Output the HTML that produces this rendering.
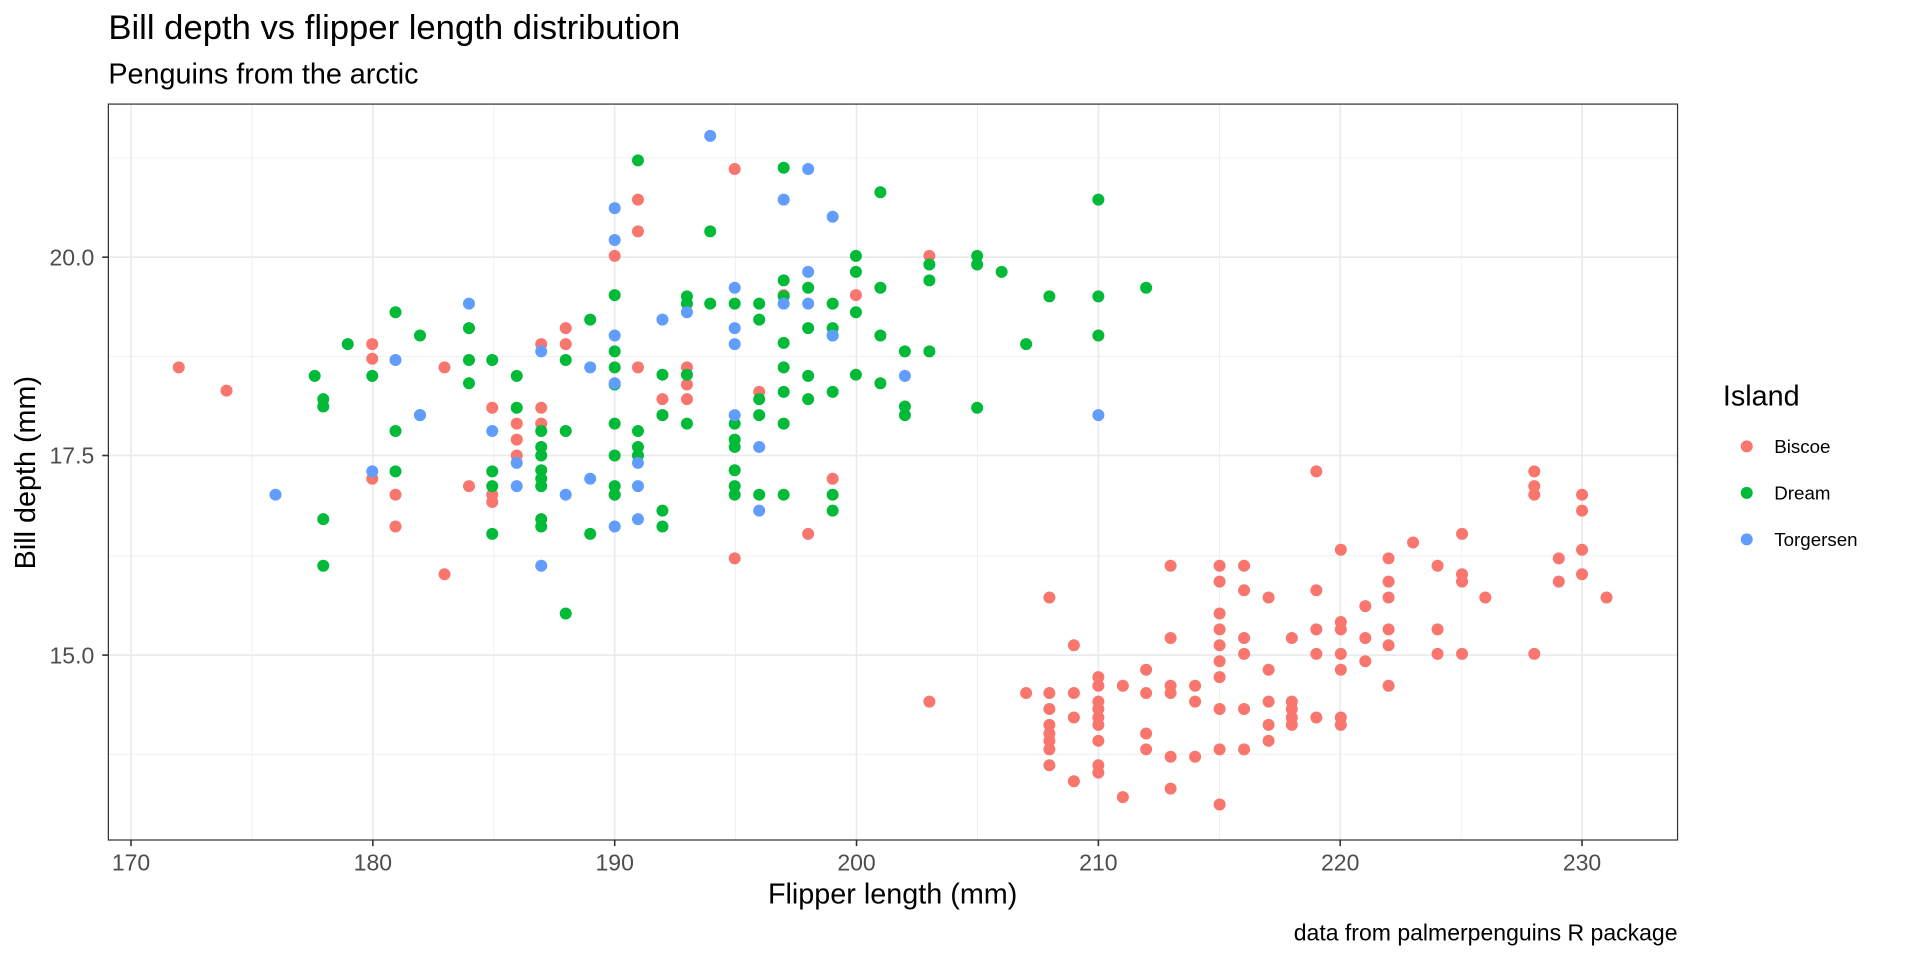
<!DOCTYPE html>
<html><head><meta charset="utf-8"><style>html,body{margin:0;padding:0;background:#fff}svg{display:block}</style></head>
<body>
<svg xmlns="http://www.w3.org/2000/svg" width="1920" height="960" viewBox="0 0 1568 784" font-family="Liberation Sans, Arial, sans-serif">
<rect width="1568" height="784" fill="#fff"/>
<g stroke="#EBEBEB" stroke-width="0.6">
<line x1="205.7" y1="85" x2="205.7" y2="686"/><line x1="403.3" y1="85" x2="403.3" y2="686"/><line x1="600.8" y1="85" x2="600.8" y2="686"/><line x1="798.3" y1="85" x2="798.3" y2="686"/><line x1="995.8" y1="85" x2="995.8" y2="686"/><line x1="1193.3" y1="85" x2="1193.3" y2="686"/>
<line x1="88.5" y1="129" x2="1370" y2="129"/><line x1="88.5" y1="291" x2="1370" y2="291"/><line x1="88.5" y1="454" x2="1370" y2="454"/><line x1="88.5" y1="616" x2="1370" y2="616"/>
</g>
<g stroke="#EBEBEB" stroke-width="1.4">
<line x1="107" y1="85" x2="107" y2="686"/><line x1="304.5" y1="85" x2="304.5" y2="686"/><line x1="502" y1="85" x2="502" y2="686"/><line x1="699.5" y1="85" x2="699.5" y2="686"/><line x1="897" y1="85" x2="897" y2="686"/><line x1="1094.5" y1="85" x2="1094.5" y2="686"/><line x1="1292" y1="85" x2="1292" y2="686"/>
<line x1="88.5" y1="210" x2="1370" y2="210"/><line x1="88.5" y1="372" x2="1370" y2="372"/><line x1="88.5" y1="535" x2="1370" y2="535"/>
</g>
<g fill="#F8766D">
<circle cx="146" cy="300" r="4.9"/><circle cx="185" cy="319" r="4.9"/><circle cx="304" cy="281" r="4.9"/><circle cx="304" cy="293" r="4.9"/><circle cx="304" cy="391" r="4.9"/><circle cx="323" cy="404" r="4.9"/><circle cx="323" cy="430" r="4.9"/><circle cx="363" cy="469" r="4.9"/><circle cx="363" cy="300" r="4.9"/><circle cx="383" cy="397" r="4.9"/><circle cx="402" cy="333" r="4.9"/><circle cx="402" cy="404" r="4.9"/><circle cx="402" cy="410" r="4.9"/><circle cx="422" cy="346" r="4.9"/><circle cx="422" cy="359" r="4.9"/><circle cx="422" cy="372" r="4.9"/><circle cx="442" cy="281" r="4.9"/><circle cx="442" cy="333" r="4.9"/><circle cx="442" cy="346" r="4.9"/><circle cx="462" cy="268" r="4.9"/><circle cx="462" cy="281" r="4.9"/><circle cx="521" cy="163" r="4.9"/><circle cx="521" cy="189" r="4.9"/><circle cx="521" cy="300" r="4.9"/><circle cx="502" cy="209" r="4.9"/><circle cx="541" cy="326" r="4.9"/><circle cx="541" cy="339" r="4.9"/><circle cx="561" cy="326" r="4.9"/><circle cx="561" cy="300" r="4.9"/><circle cx="561" cy="314" r="4.9"/><circle cx="600" cy="138" r="4.9"/><circle cx="600" cy="456" r="4.9"/><circle cx="620" cy="320" r="4.9"/><circle cx="640" cy="241" r="4.9"/><circle cx="660" cy="436" r="4.9"/><circle cx="680" cy="391" r="4.9"/><circle cx="699" cy="241" r="4.9"/><circle cx="759" cy="209" r="4.9"/><circle cx="759" cy="573" r="4.9"/><circle cx="857" cy="488" r="4.9"/><circle cx="877" cy="527" r="4.9"/><circle cx="838" cy="566" r="4.9"/><circle cx="857" cy="566" r="4.9"/><circle cx="857" cy="579" r="4.9"/><circle cx="857" cy="592" r="4.9"/><circle cx="857" cy="599" r="4.9"/><circle cx="857" cy="605" r="4.9"/><circle cx="857" cy="612" r="4.9"/><circle cx="857" cy="625" r="4.9"/><circle cx="877" cy="566" r="4.9"/><circle cx="877" cy="586" r="4.9"/><circle cx="877" cy="638" r="4.9"/><circle cx="897" cy="553" r="4.9"/><circle cx="897" cy="560" r="4.9"/><circle cx="897" cy="573" r="4.9"/><circle cx="897" cy="579" r="4.9"/><circle cx="897" cy="586" r="4.9"/><circle cx="897" cy="592" r="4.9"/><circle cx="897" cy="605" r="4.9"/><circle cx="897" cy="625" r="4.9"/><circle cx="897" cy="631" r="4.9"/><circle cx="917" cy="560" r="4.9"/><circle cx="917" cy="651" r="4.9"/><circle cx="936" cy="566" r="4.9"/><circle cx="936" cy="599" r="4.9"/><circle cx="936" cy="612" r="4.9"/><circle cx="936" cy="547" r="4.9"/><circle cx="956" cy="462" r="4.9"/><circle cx="956" cy="521" r="4.9"/><circle cx="956" cy="560" r="4.9"/><circle cx="956" cy="566" r="4.9"/><circle cx="956" cy="618" r="4.9"/><circle cx="956" cy="644" r="4.9"/><circle cx="976" cy="560" r="4.9"/><circle cx="976" cy="573" r="4.9"/><circle cx="976" cy="618" r="4.9"/><circle cx="996" cy="462" r="4.9"/><circle cx="996" cy="475" r="4.9"/><circle cx="996" cy="501" r="4.9"/><circle cx="996" cy="514" r="4.9"/><circle cx="996" cy="527" r="4.9"/><circle cx="996" cy="540" r="4.9"/><circle cx="996" cy="553" r="4.9"/><circle cx="996" cy="579" r="4.9"/><circle cx="996" cy="612" r="4.9"/><circle cx="996" cy="657" r="4.9"/><circle cx="1016" cy="462" r="4.9"/><circle cx="1016" cy="482" r="4.9"/><circle cx="1016" cy="521" r="4.9"/><circle cx="1016" cy="534" r="4.9"/><circle cx="1016" cy="579" r="4.9"/><circle cx="1016" cy="612" r="4.9"/><circle cx="1036" cy="488" r="4.9"/><circle cx="1036" cy="547" r="4.9"/><circle cx="1036" cy="573" r="4.9"/><circle cx="1036" cy="592" r="4.9"/><circle cx="1036" cy="605" r="4.9"/><circle cx="1055" cy="521" r="4.9"/><circle cx="1055" cy="573" r="4.9"/><circle cx="1055" cy="579" r="4.9"/><circle cx="1055" cy="586" r="4.9"/><circle cx="1055" cy="592" r="4.9"/><circle cx="1075" cy="385" r="4.9"/><circle cx="1075" cy="482" r="4.9"/><circle cx="1075" cy="514" r="4.9"/><circle cx="1075" cy="534" r="4.9"/><circle cx="1075" cy="586" r="4.9"/><circle cx="1095" cy="449" r="4.9"/><circle cx="1095" cy="508" r="4.9"/><circle cx="1095" cy="514" r="4.9"/><circle cx="1095" cy="534" r="4.9"/><circle cx="1095" cy="547" r="4.9"/><circle cx="1095" cy="586" r="4.9"/><circle cx="1095" cy="592" r="4.9"/><circle cx="1115" cy="495" r="4.9"/><circle cx="1115" cy="521" r="4.9"/><circle cx="1115" cy="540" r="4.9"/><circle cx="1134" cy="456" r="4.9"/><circle cx="1134" cy="475" r="4.9"/><circle cx="1134" cy="488" r="4.9"/><circle cx="1134" cy="514" r="4.9"/><circle cx="1134" cy="527" r="4.9"/><circle cx="1134" cy="560" r="4.9"/><circle cx="1154" cy="443" r="4.9"/><circle cx="1174" cy="534" r="4.9"/><circle cx="1174" cy="462" r="4.9"/><circle cx="1174" cy="514" r="4.9"/><circle cx="1194" cy="436" r="4.9"/><circle cx="1194" cy="469" r="4.9"/><circle cx="1194" cy="475" r="4.9"/><circle cx="1194" cy="534" r="4.9"/><circle cx="1213" cy="488" r="4.9"/><circle cx="1253" cy="385" r="4.9"/><circle cx="1253" cy="397" r="4.9"/><circle cx="1253" cy="404" r="4.9"/><circle cx="1253" cy="534" r="4.9"/><circle cx="1273" cy="456" r="4.9"/><circle cx="1273" cy="475" r="4.9"/><circle cx="1292" cy="404" r="4.9"/><circle cx="1292" cy="417" r="4.9"/><circle cx="1292" cy="449" r="4.9"/><circle cx="1292" cy="469" r="4.9"/><circle cx="1312" cy="488" r="4.9"/>
</g>
<g fill="#00BA38">
<circle cx="257" cy="307" r="4.9"/><circle cx="264" cy="326" r="4.9"/><circle cx="264" cy="332" r="4.9"/><circle cx="264" cy="424" r="4.9"/><circle cx="264" cy="462" r="4.9"/><circle cx="284" cy="281" r="4.9"/><circle cx="304" cy="307" r="4.9"/><circle cx="323" cy="255" r="4.9"/><circle cx="323" cy="352" r="4.9"/><circle cx="323" cy="385" r="4.9"/><circle cx="343" cy="274" r="4.9"/><circle cx="343" cy="339" r="4.9"/><circle cx="383" cy="268" r="4.9"/><circle cx="383" cy="294" r="4.9"/><circle cx="383" cy="313" r="4.9"/><circle cx="402" cy="294" r="4.9"/><circle cx="402" cy="385" r="4.9"/><circle cx="402" cy="397" r="4.9"/><circle cx="402" cy="436" r="4.9"/><circle cx="422" cy="307" r="4.9"/><circle cx="422" cy="333" r="4.9"/><circle cx="442" cy="352" r="4.9"/><circle cx="442" cy="365" r="4.9"/><circle cx="442" cy="372" r="4.9"/><circle cx="442" cy="384" r="4.9"/><circle cx="442" cy="391" r="4.9"/><circle cx="442" cy="397" r="4.9"/><circle cx="442" cy="424" r="4.9"/><circle cx="442" cy="430" r="4.9"/><circle cx="462" cy="294" r="4.9"/><circle cx="462" cy="352" r="4.9"/><circle cx="462" cy="501" r="4.9"/><circle cx="482" cy="261" r="4.9"/><circle cx="482" cy="436" r="4.9"/><circle cx="502" cy="241" r="4.9"/><circle cx="502" cy="287" r="4.9"/><circle cx="502" cy="300" r="4.9"/><circle cx="502" cy="314" r="4.9"/><circle cx="502" cy="346" r="4.9"/><circle cx="502" cy="372" r="4.9"/><circle cx="502" cy="397" r="4.9"/><circle cx="502" cy="404" r="4.9"/><circle cx="521" cy="131" r="4.9"/><circle cx="521" cy="352" r="4.9"/><circle cx="521" cy="365" r="4.9"/><circle cx="521" cy="372" r="4.9"/><circle cx="541" cy="306" r="4.9"/><circle cx="541" cy="417" r="4.9"/><circle cx="541" cy="430" r="4.9"/><circle cx="561" cy="242" r="4.9"/><circle cx="561" cy="248" r="4.9"/><circle cx="561" cy="346" r="4.9"/><circle cx="580" cy="189" r="4.9"/><circle cx="580" cy="248" r="4.9"/><circle cx="600" cy="248" r="4.9"/><circle cx="600" cy="346" r="4.9"/><circle cx="600" cy="359" r="4.9"/><circle cx="600" cy="365" r="4.9"/><circle cx="600" cy="384" r="4.9"/><circle cx="600" cy="397" r="4.9"/><circle cx="620" cy="248" r="4.9"/><circle cx="620" cy="261" r="4.9"/><circle cx="620" cy="326" r="4.9"/><circle cx="620" cy="339" r="4.9"/><circle cx="640" cy="137" r="4.9"/><circle cx="640" cy="229" r="4.9"/><circle cx="640" cy="242" r="4.9"/><circle cx="640" cy="280" r="4.9"/><circle cx="640" cy="300" r="4.9"/><circle cx="640" cy="320" r="4.9"/><circle cx="640" cy="346" r="4.9"/><circle cx="640" cy="404" r="4.9"/><circle cx="660" cy="235" r="4.9"/><circle cx="660" cy="268" r="4.9"/><circle cx="660" cy="307" r="4.9"/><circle cx="660" cy="326" r="4.9"/><circle cx="680" cy="248" r="4.9"/><circle cx="680" cy="268" r="4.9"/><circle cx="680" cy="274" r="4.9"/><circle cx="680" cy="320" r="4.9"/><circle cx="699" cy="209" r="4.9"/><circle cx="699" cy="222" r="4.9"/><circle cx="699" cy="255" r="4.9"/><circle cx="699" cy="306" r="4.9"/><circle cx="719" cy="157" r="4.9"/><circle cx="719" cy="235" r="4.9"/><circle cx="719" cy="274" r="4.9"/><circle cx="719" cy="313" r="4.9"/><circle cx="739" cy="287" r="4.9"/><circle cx="739" cy="332" r="4.9"/><circle cx="739" cy="339" r="4.9"/><circle cx="759" cy="216" r="4.9"/><circle cx="759" cy="229" r="4.9"/><circle cx="759" cy="287" r="4.9"/><circle cx="798" cy="209" r="4.9"/><circle cx="798" cy="216" r="4.9"/><circle cx="798" cy="333" r="4.9"/><circle cx="818" cy="222" r="4.9"/><circle cx="838" cy="281" r="4.9"/><circle cx="857" cy="242" r="4.9"/><circle cx="897" cy="163" r="4.9"/><circle cx="897" cy="242" r="4.9"/><circle cx="897" cy="274" r="4.9"/><circle cx="936" cy="235" r="4.9"/><circle cx="680" cy="404" r="4.9"/><circle cx="680" cy="417" r="4.9"/><circle cx="620" cy="404" r="4.9"/><circle cx="600" cy="404" r="4.9"/><circle cx="561" cy="306" r="4.9"/><circle cx="541" cy="339" r="4.9"/><circle cx="502" cy="404" r="4.9"/>
</g>
<g fill="#619CFF">
<circle cx="225" cy="404" r="4.9"/><circle cx="304" cy="385" r="4.9"/><circle cx="323" cy="294" r="4.9"/><circle cx="343" cy="339" r="4.9"/><circle cx="383" cy="248" r="4.9"/><circle cx="402" cy="352" r="4.9"/><circle cx="422" cy="397" r="4.9"/><circle cx="422" cy="378" r="4.9"/><circle cx="442" cy="287" r="4.9"/><circle cx="442" cy="462" r="4.9"/><circle cx="462" cy="404" r="4.9"/><circle cx="482" cy="300" r="4.9"/><circle cx="482" cy="391" r="4.9"/><circle cx="502" cy="170" r="4.9"/><circle cx="502" cy="196" r="4.9"/><circle cx="502" cy="274" r="4.9"/><circle cx="502" cy="313" r="4.9"/><circle cx="502" cy="430" r="4.9"/><circle cx="521" cy="378" r="4.9"/><circle cx="521" cy="397" r="4.9"/><circle cx="521" cy="424" r="4.9"/><circle cx="541" cy="261" r="4.9"/><circle cx="580" cy="111" r="4.9"/><circle cx="600" cy="235" r="4.9"/><circle cx="600" cy="268" r="4.9"/><circle cx="600" cy="281" r="4.9"/><circle cx="600" cy="339" r="4.9"/><circle cx="620" cy="365" r="4.9"/><circle cx="620" cy="417" r="4.9"/><circle cx="640" cy="163" r="4.9"/><circle cx="640" cy="248" r="4.9"/><circle cx="660" cy="138" r="4.9"/><circle cx="660" cy="222" r="4.9"/><circle cx="660" cy="248" r="4.9"/><circle cx="680" cy="177" r="4.9"/><circle cx="680" cy="274" r="4.9"/><circle cx="739" cy="307" r="4.9"/><circle cx="897" cy="339" r="4.9"/><circle cx="561" cy="255" r="4.9"/>
</g>
<rect x="88.5" y="85" width="1281.5" height="601" fill="none" stroke="#333" stroke-width="1"/>
<g stroke="#333" stroke-width="1.3">
<line x1="107" y1="686" x2="107" y2="691"/><line x1="304.5" y1="686" x2="304.5" y2="691"/><line x1="502" y1="686" x2="502" y2="691"/><line x1="699.5" y1="686" x2="699.5" y2="691"/><line x1="897" y1="686" x2="897" y2="691"/><line x1="1094.5" y1="686" x2="1094.5" y2="691"/><line x1="1292" y1="686" x2="1292" y2="691"/>
<line x1="83.5" y1="210" x2="88.5" y2="210"/><line x1="83.5" y1="372" x2="88.5" y2="372"/><line x1="83.5" y1="535" x2="88.5" y2="535"/>
</g>
<g fill="#4D4D4D" font-size="18.8" text-anchor="middle">
<text x="107" y="711">170</text><text x="304.5" y="711">180</text><text x="502" y="711">190</text><text x="699.5" y="711">200</text><text x="897" y="711">210</text><text x="1094.5" y="711">220</text><text x="1292" y="711">230</text>
</g>
<g fill="#4D4D4D" font-size="18.8" text-anchor="end">
<text x="77" y="216.7">20.0</text><text x="77" y="378.7">17.5</text><text x="77" y="541.7">15.0</text>
</g>
<text x="729" y="738" font-size="23.5" text-anchor="middle" fill="#000">Flipper length (mm)</text>
<text transform="translate(28.5,386) rotate(-90)" font-size="23.5" text-anchor="middle" fill="#000">Bill depth (mm)</text>
<text x="88.5" y="32" font-size="28.3" fill="#000">Bill depth vs flipper length distribution</text>
<text x="88.5" y="68" font-size="23.5" fill="#000">Penguins from the arctic</text>
<text x="1370" y="768" font-size="18.8" text-anchor="end" fill="#000">data from palmerpenguins R package</text>
<text x="1407" y="331" font-size="23.5" fill="#000">Island</text>
<circle cx="1426.5" cy="364.5" r="4.9" fill="#F8766D"/>
<circle cx="1426.5" cy="402.5" r="4.9" fill="#00BA38"/>
<circle cx="1426.5" cy="440.5" r="4.9" fill="#619CFF"/>
<g font-size="15.3" fill="#000">
<text x="1449" y="370">Biscoe</text><text x="1449" y="408">Dream</text><text x="1449" y="446">Torgersen</text>
</g>
</svg>
</body></html>
